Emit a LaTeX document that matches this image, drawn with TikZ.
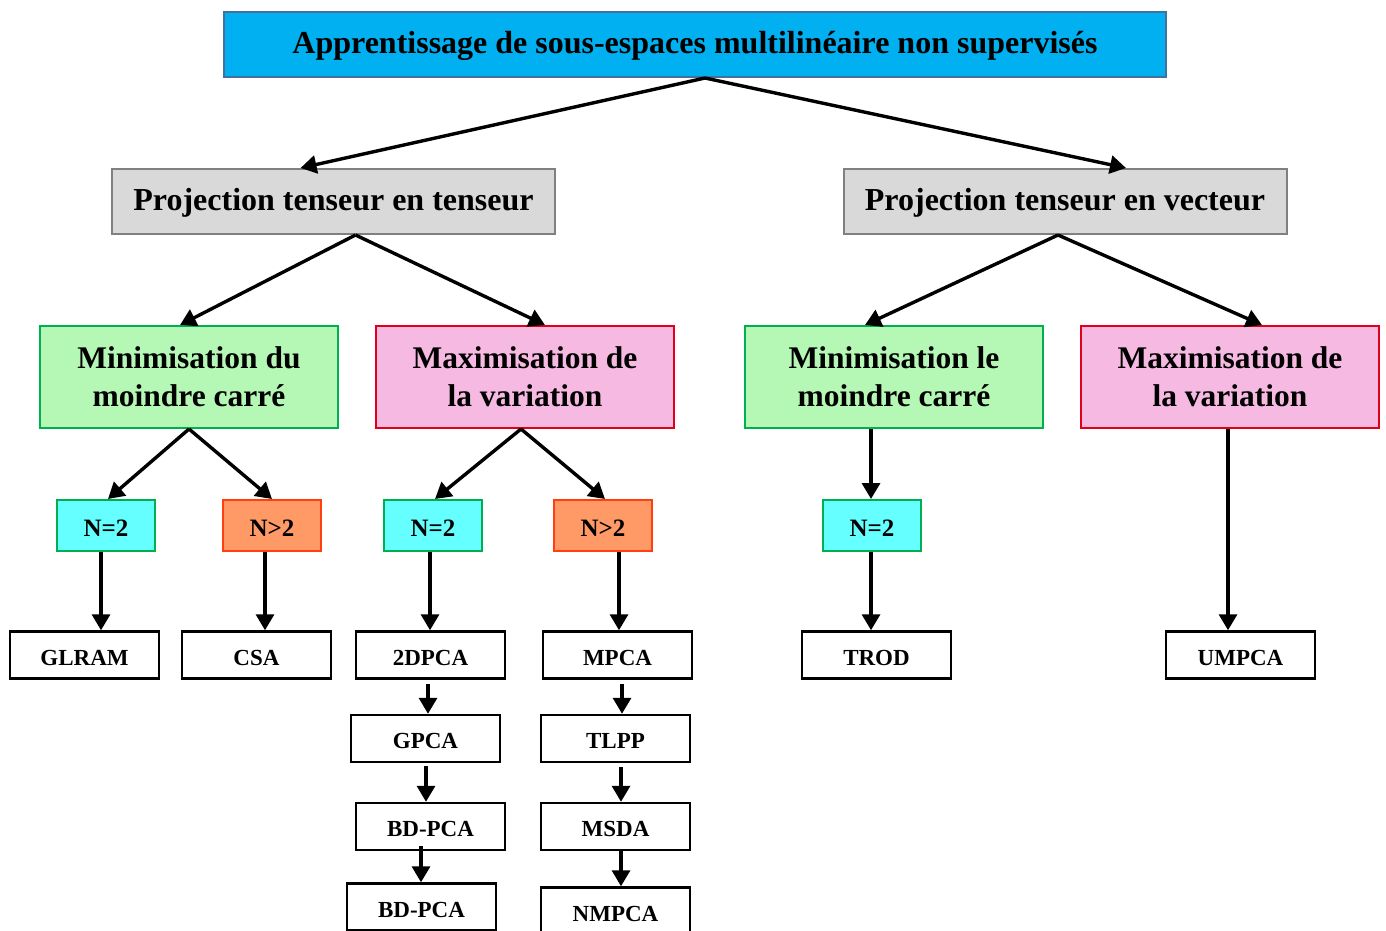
\documentclass[tikz,border=0pt]{standalone}
\usepackage{fontspec}
\setmainfont{Liberation Serif}
\usetikzlibrary{arrows.meta}
\definecolor{topblue}{HTML}{00B0F0}
\definecolor{topline}{HTML}{41719C}
\definecolor{greyfill}{HTML}{D9D9D9}
\definecolor{greyline}{HTML}{808080}
\definecolor{greenfill}{HTML}{B5F7B5}
\definecolor{greenline}{HTML}{00B050}
\definecolor{pinkfill}{HTML}{F6B9E2}
\definecolor{redline}{HTML}{E0001B}
\definecolor{cyanfill}{HTML}{66FFFF}
\definecolor{orangefill}{HTML}{FF9966}
\definecolor{orangeline}{HTML}{FF3F10}
\begin{document}
\begin{tikzpicture}[x=1pt,y=-1pt,
  box/.style={draw, line width=2pt, inner sep=0pt, align=center},
  rootbox/.style={box, fill=topblue, draw=topline, minimum width=942pt, minimum height=65pt,
    text height=22pt, text depth=5pt, font=\fontsize{32}{38}\selectfont\bfseries},
  projbox/.style={box, fill=greyfill, draw=greyline, minimum width=443pt, minimum height=65pt,
    text height=22pt, text depth=5pt, font=\fontsize{32}{38}\selectfont\bfseries},
  minbox/.style={box, fill=greenfill, draw=greenline, minimum width=298pt, minimum height=102pt,
    font=\fontsize{31.5}{38}\selectfont\bfseries},
  maxbox/.style={box, fill=pinkfill, draw=redline, minimum width=298pt, minimum height=102pt,
    font=\fontsize{31.5}{38}\selectfont\bfseries},
  eqbox/.style={box, fill=cyanfill, draw=greenline, minimum width=98pt, minimum height=51pt,
    text height=22pt, text depth=0pt, font=\fontsize{25}{30}\selectfont\bfseries},
  gtbox/.style={box, fill=orangefill, draw=orangeline, minimum width=98pt, minimum height=51pt,
    text height=22pt, text depth=0pt, font=\fontsize{25}{30}\selectfont\bfseries},
  algbox/.style={box, fill=white, draw=black, line width=2.5pt, minimum width=149pt, minimum height=47pt,
    text height=20pt, text depth=0pt, font=\fontsize{23}{28}\selectfont\bfseries},
  arr/.style={line width=3.4pt, -{Triangle[length=16pt,width=18pt]}}
]
\useasboundingbox (0,0) rectangle (1386,930);
\clip (0,0) rectangle (1386,930);

% root
\node[rootbox] (root) at (695,44.5) {Apprentissage de sous-espaces multilinéaire non supervisés};

% projections
\node[projbox] (ttt) at (333.5,201.5) {Projection tenseur en tenseur};
\node[projbox] (ttv) at (1065,201.5) {Projection tenseur en vecteur};

% criteria
\node[minbox] (minA) at (189,377) {Minimisation du\\moindre carré};
\node[maxbox] (maxA) at (525,377) {Maximisation de\\la variation};
\node[minbox] (minB) at (894,377) {Minimisation le\\moindre carré};
\node[maxbox] (maxB) at (1230,377) {Maximisation de\\la variation};

% tensor order
\node[eqbox] (eqA) at (106,525.5) {N=2};
\node[gtbox] (gtA) at (272,525.5) {N>2};
\node[eqbox] (eqB) at (433,525.5) {N=2};
\node[gtbox] (gtB) at (603,525.5) {N>2};
\node[eqbox] (eqC) at (872,525.5) {N=2};

% algorithms
\node[algbox] (glram) at (84.5,655) {GLRAM};
\node[algbox] (csa) at (256.5,655) {CSA};
\node[algbox] (dpca) at (430.5,655) {2DPCA};
\node[algbox] (gpca) at (425.5,738.5) {GPCA};
\node[algbox] (bdpca) at (430.5,826.5) {BD-PCA};
\node[algbox] (bdpcb) at (421.5,907) {BD-PCA};
\node[algbox] (mpca) at (617.5,655) {MPCA};
\node[algbox] (tlpp) at (615.5,738.5) {TLPP};
\node[algbox] (msda) at (615.5,826.5) {MSDA};
\node[algbox] (nmpca) at (615.5,911) {NMPCA};
\node[algbox] (trod) at (876.5,655) {TROD};
\node[algbox] (umpca) at (1240.5,655) {UMPCA};

% root to projections
\draw[arr] ([xshift=10pt]root.south) -- ([xshift=-33pt]ttt.north);
\draw[arr] ([xshift=10pt]root.south) -- ([xshift=61pt]ttv.north);

% projections to criteria
\draw[arr] ([xshift=22pt]ttt.south) -- ([xshift=-9pt]minA.north);
\draw[arr] ([xshift=22pt]ttt.south) -- ([xshift=20pt]maxA.north);
\draw[arr] ([xshift=-7pt]ttv.south) -- ([xshift=-29pt]minB.north);
\draw[arr] ([xshift=-7pt]ttv.south) -- ([xshift=32pt]maxB.north);

% criteria to tensor order
\draw[arr] (minA.south) -- ([xshift=2pt]eqA.north);
\draw[arr] (minA.south) -- (gtA.north);
\draw[arr] ([xshift=-4pt]maxA.south) -- ([xshift=2pt]eqB.north);
\draw[arr] ([xshift=-4pt]maxA.south) -- ([xshift=2pt]gtB.north);
\draw[arr] ([xshift=-23pt]minB.south) -- ([xshift=-1pt]eqC.north);
\draw[arr] ([xshift=-2pt]maxB.south) -- ([xshift=-2pt]maxB.south |- umpca.north);

% tensor order to algorithms
\draw[arr] ([xshift=-5pt]eqA.south) -- ([xshift=-5pt]eqA.south |- glram.north);
\draw[arr] ([xshift=-7pt]gtA.south) -- ([xshift=-7pt]gtA.south |- csa.north);
\draw[arr] ([xshift=-3pt]eqB.south) -- ([xshift=-3pt]eqB.south |- dpca.north);
\draw[arr] ([xshift=16pt]gtB.south) -- ([xshift=16pt]gtB.south |- mpca.north);
\draw[arr] ([xshift=-1pt]eqC.south) -- ([xshift=-1pt]eqC.south |- trod.north);

% algorithm chains
\draw[arr] ([xshift=-2.5pt,yshift=-4pt]dpca.south) -- ([xshift=-2.5pt]dpca.south |- gpca.north);
\draw[arr] ([xshift=0.5pt,yshift=-3pt]gpca.south) -- ([xshift=0.5pt]gpca.south |- bdpca.north);
\draw[arr] ([xshift=-9.5pt,yshift=5pt]bdpca.south) -- ([xshift=-9.5pt]bdpca.south |- bdpcb.north);
\draw[arr] ([xshift=4.5pt,yshift=-4pt]mpca.south) -- ([xshift=4.5pt]mpca.south |- tlpp.north);
\draw[arr] ([xshift=5.5pt,yshift=-4pt]tlpp.south) -- ([xshift=5.5pt]tlpp.south |- msda.north);
\draw[arr] ([xshift=5.5pt]msda.south) -- ([xshift=5.5pt]msda.south |- nmpca.north);
\end{tikzpicture}
\end{document}
